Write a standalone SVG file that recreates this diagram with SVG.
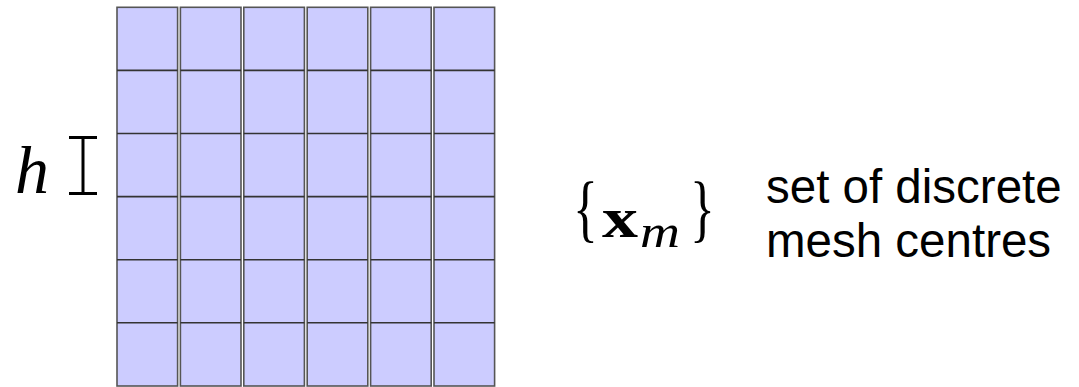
<svg xmlns="http://www.w3.org/2000/svg" width="1079" height="387" viewBox="0 0 1079 387">
  <style>
    .col { fill: #ccccff; stroke: #555; stroke-width: 1.6; }
    .row { stroke: #333; stroke-width: 1.6; }
    .serif { font-family: "Liberation Serif", "DejaVu Serif", serif; fill: #000; }
    .brace { font-family: "Liberation Serif", "DejaVu Serif", serif; font-size: 74px; fill: #000; }
    .sans { font-family: "Liberation Sans", Arial, sans-serif; font-size: 47.5px; fill: #000; }
  </style>
  <defs>
    <g id="column">
      <rect class="col" x="0" y="7.3" width="60.6" height="378.7"/>
      <line class="row" x1="0" y1="70.4" x2="60.6" y2="70.4"/>
      <line class="row" x1="0" y1="133.5" x2="60.6" y2="133.5"/>
      <line class="row" x1="0" y1="196.6" x2="60.6" y2="196.6"/>
      <line class="row" x1="0" y1="259.7" x2="60.6" y2="259.7"/>
      <line class="row" x1="0" y1="322.8" x2="60.6" y2="322.8"/>
    </g>
  </defs>
  <g id="mesh">
    <use href="#column" x="117"/>
    <use href="#column" x="180.4"/>
    <use href="#column" x="243.8"/>
    <use href="#column" x="307.2"/>
    <use href="#column" x="370.6"/>
    <use href="#column" x="434"/>
  </g>
  <g id="h-label">
    <text class="serif" x="15" y="193" font-size="68" font-style="italic">h</text>
  </g>
  <g id="h-marker" stroke="#000" stroke-width="3" fill="none">
    <line x1="83" y1="137.5" x2="83" y2="193.5"/>
    <line x1="69" y1="137.5" x2="97" y2="137.5"/>
    <line x1="69" y1="193.5" x2="97" y2="193.5"/>
  </g>
  <g id="xm-label">
    <text class="brace" transform="translate(573,233) scale(0.7,1)">{</text>
    <text class="serif" x="602" y="237" font-size="56" font-weight="bold" textLength="36" lengthAdjust="spacingAndGlyphs">x</text>
    <text class="serif" x="640" y="247" font-size="46" font-style="italic" textLength="40" lengthAdjust="spacingAndGlyphs">m</text>
    <text class="brace" transform="translate(690,233) scale(0.7,1)">}</text>
  </g>
  <g id="description">
    <text class="sans" x="766" y="203">set of discrete</text>
    <text class="sans" x="766" y="257">mesh centres</text>
  </g>
  <g id="connectors"/>
</svg>
